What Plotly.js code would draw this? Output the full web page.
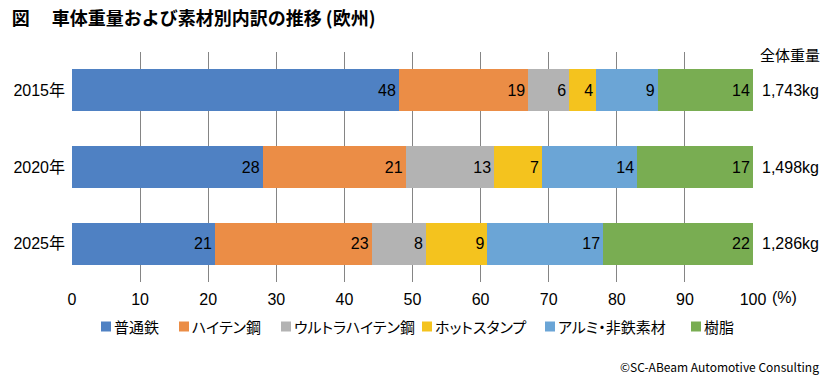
<!DOCTYPE html>
<html><head><meta charset="utf-8">
<script src="https://cdn.plot.ly/plotly-3.0.1.min.js"></script>
<style>html,body{margin:0;padding:0;background:#fff}#chart{width:836px;height:388px}
.annotation-text{font-feature-settings:"palt" 1;}</style>
</head><body><div id="chart"></div>
<script>
const years = ['2015年', '2020年', '2025年'];
const seriesNames = ['普通鉄', 'ハイテン鋼', 'ウルトラハイテン鋼', 'ホットスタンプ', 'アルミ・非鉄素材', '樹脂'];
const futsutetsu = [48, 28, 21];
const haiten = [19, 21, 23];
const ultraHaiten = [6, 13, 8];
const hotStamp = [4, 7, 9];
const aluminium = [9, 14, 17];
const jushi = [14, 17, 22];
const totals = ['1,743kg', '1,498kg', '1,286kg'];
const xTicks = [0, 10, 20, 30, 40, 50, 60, 70, 80, 90, 100];

const colors = ['#4F81C3', '#EB8D46', '#B3B3B3', '#F4C31E', '#6BA5D6', '#79AD52'];
const values = [futsutetsu, haiten, ultraHaiten, hotStamp, aluminium, jushi];
const FONT = '"Noto Sans CJK JP", "Noto Sans", sans-serif';
const NUMFONT = '"Liberation Sans", "Noto Sans CJK JP", sans-serif';

// plot area geometry (pixels)
const L = 72, R = 83, T = 52, B = 106, W = 836, H = 388;
const PW = W - L - R, PH = H - T - B;
const px2paperX = p => (p - L) / PW;
const px2paperY = p => (H - B - p) / PH;

const traces = values.map((v, i) => ({
  type: 'bar', orientation: 'h', name: seriesNames[i],
  y: years, x: v, text: v.map(String),
  textposition: 'inside', insidetextanchor: 'end', textangle: 0,
  textfont: {color: '#000', size: 16, family: NUMFONT},
  constraintext: 'none',
  marker: {color: colors[i], line: {width: 0}},
  hoverinfo: 'none', showlegend: false
}));

const annotations = years.map((y, i) => ({
  xref: 'paper', yref: 'y', x: 1, y: y, xanchor: 'left', xshift: 7,
  text: totals[i], showarrow: false, font: {size: 16, color: '#000', family: NUMFONT}
}));
annotations.push({xref: 'paper', yref: 'paper', x: 1, y: 1, xanchor: 'left', yanchor: 'middle', xshift: 5, yshift: -2,
  text: '全体重量', showarrow: false, font: {size: 15, color: '#000', family: FONT}});
annotations.push({xref: 'x', yref: 'paper', x: 100, y: 0, xanchor: 'left', yanchor: 'middle', xshift: 17, yshift: -15,
  text: '(%)', showarrow: false, font: {size: 16, color: '#000', family: NUMFONT}});
annotations.push({xref: 'paper', yref: 'paper', x: px2paperX(821), y: px2paperY(366), xanchor: 'right', yanchor: 'middle',
  text: '©SC-ABeam Automotive Consulting', showarrow: false, font: {size: 12, color: '#000', family: FONT}});

// custom single-row legend
const legendLeft = [101, 179, 281, 422, 545, 691];
const legendY = px2paperY(326.5);
const shapes = [];
seriesNames.forEach((n, i) => {
  shapes.push({type: 'rect', xref: 'paper', yref: 'paper', xsizemode: 'pixel', ysizemode: 'pixel',
    xanchor: px2paperX(legendLeft[i]), yanchor: legendY, x0: 0, x1: 10, y0: -5, y1: 5,
    fillcolor: colors[i], line: {width: 0}});
  annotations.push({xref: 'paper', yref: 'paper', x: px2paperX(legendLeft[i] + 11), y: legendY,
    xanchor: 'left', yanchor: 'middle', text: n, showarrow: false,
    font: {size: 15, color: '#000', family: FONT}});
});

const layout = {
  width: W, height: H,
  margin: {l: L, r: R, t: T, b: B},
  paper_bgcolor: '#fff', plot_bgcolor: '#fff',
  barmode: 'stack', bargap: 0.455,
  font: {family: FONT, color: '#000', size: 15},
  title: {text: '<b>図　 車体重量および素材別内訳の推移 (欧州)</b>', x: 0.014, xanchor: 'left', y: 0.953, yanchor: 'middle',
    font: {size: 18, family: FONT, color: '#000'}},
  xaxis: {range: [0, 100], tickvals: xTicks, ticktext: xTicks.map(String), showgrid: true, gridcolor: '#858585', gridwidth: 1,
    zeroline: false, showline: false, ticks: '', ticklabelstandoff: 6, tickfont: {size: 16, family: NUMFONT}, fixedrange: true},
  yaxis: {autorange: 'reversed', showgrid: false, zeroline: false, showline: false, ticks: '', ticklabelstandoff: 6,
    tickfont: {size: 16, family: NUMFONT}, fixedrange: true},
  showlegend: false,
  shapes: shapes,
  annotations: annotations
};

Plotly.newPlot('chart', traces, layout, {displayModeBar: false, staticPlot: true});
</script></body></html>
